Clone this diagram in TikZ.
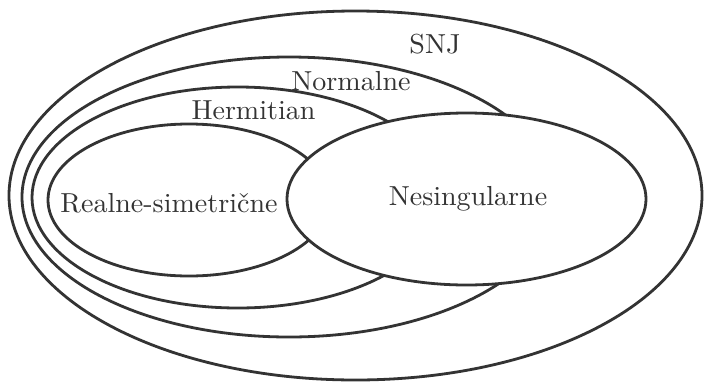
\documentclass[tikz,border=0pt]{standalone}
\usepackage{fontspec}
\newfontfamily\setlabelfont{lmroman10-regular.otf}[FakeStretch=1.02]
\begin{document}
\begin{tikzpicture}[x=1pt,y=-1pt,
  setline/.style={draw=black!80, line width=2.8pt},
  setlabel/.style={text=black!80, inner sep=0pt, font=\setlabelfont\fontsize{27.5}{33}\selectfont}]
\useasboundingbox (0,0) rectangle (704,381);
\fill[white] (0,0) rectangle (704,381);
\draw[setline] (355.5,195.5) ellipse [x radius=346.5, y radius=184.5];
\draw[setline] (289,197) ellipse [x radius=267, y radius=140];
\draw[setline] (238,197.5) ellipse [x radius=206, y radius=110.5];
\draw[setline] (189,200) ellipse [x radius=141, y radius=76];
\draw[setline, fill=white] (466.5,199) ellipse [x radius=179.5, y radius=86];
\node[setlabel] (snj) at (435,44) {SNJ};
\node[setlabel] (normalne) at (351,81) {Normalne};
\node[setlabel] (hermitian) at (253.5,110) {Hermitian};
\node[setlabel] (realne) at (169,203) {Realne-simetrične};
\node[setlabel] (nesing) at (468,199) {Nesingularne};
\end{tikzpicture}
\end{document}
